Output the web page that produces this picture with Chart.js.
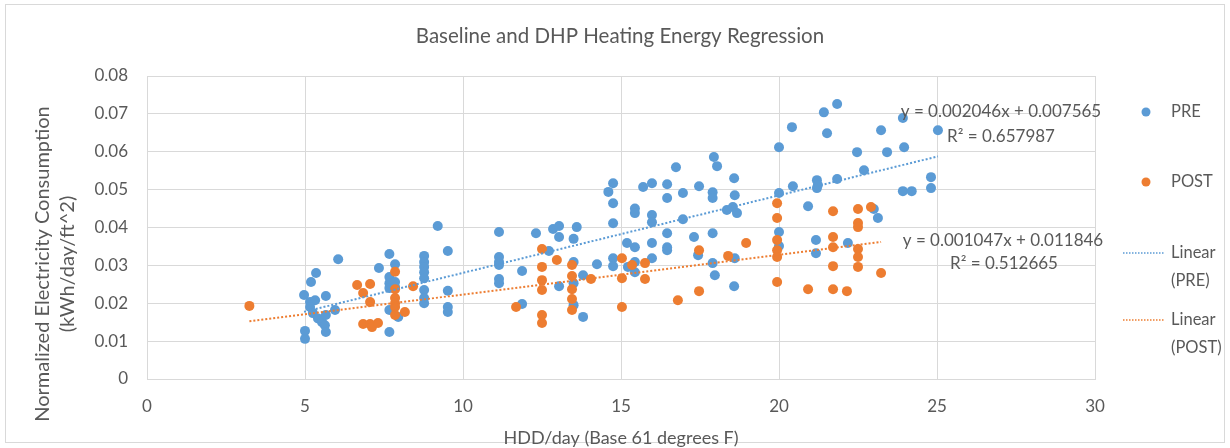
<!DOCTYPE html>
<html>
<head>
<meta charset="utf-8">
<script src="https://cdn.jsdelivr.net/npm/chart.js@4.4.1/dist/chart.umd.min.js"></script>
<style>
  html,body{margin:0;padding:0;background:#fff;}
  #wrap{width:1230px;height:448px;}
</style>
</head>
<body>
<div id="wrap"><canvas id="c" width="1230" height="448"></canvas></div>
<script>
const TITLE = 'Baseline and DHP Heating Energy Regression';
const X_TITLE = 'HDD/day (Base 61 degrees F)';
const Y_TITLE = ['Normalized Electricity Consumption', '(kWh/day/ft^2)'];
const X_TICK_LABELS = ['0', '5', '10', '15', '20', '25', '30'];
const Y_TICK_LABELS = ['0', '0.01', '0.02', '0.03', '0.04', '0.05', '0.06', '0.07', '0.08'];
const SERIES_NAMES = ['PRE', 'POST'];

const PRE_X = [5.0, 5.0, 4.97, 5.19, 5.35, 5.16, 5.32, 5.16, 5.25, 5.41, 5.54, 5.63, 5.66, 5.66, 5.66, 5.95, 6.05,
  7.34, 7.67, 7.85, 7.67, 7.67, 7.67, 7.85, 7.85, 7.67, 7.95, 7.67,
  8.77, 8.77, 8.77, 8.77, 8.77, 8.77, 8.77, 8.77, 9.2, 9.52, 9.52, 9.52, 9.52,
  11.14, 11.14, 11.14, 11.14, 11.14, 11.14, 11.87, 12.31, 12.72, 12.85, 13.04, 13.04, 13.6, 13.5, 13.5, 13.5, 13.8, 13.04,
  11.87, 13.5, 13.8, 14.24, 14.75, 14.75, 14.6, 14.75, 14.75, 14.75, 15.19, 15.44, 15.44, 15.44, 15.44, 15.44,
  15.98, 15.98, 15.98, 15.98, 16.46, 16.46, 16.46, 16.46, 15.22, 15.7, 15.98, 16.46, 16.74, 16.96, 16.96, 17.31,
  17.47, 17.44, 17.9, 17.9, 17.9, 17.9, 17.97, 17.94, 18.04, 18.58, 18.6, 18.35, 18.54, 18.67, 18.6, 18.58,
  20.0, 20.0, 20.0, 20.0, 20.41, 20.44, 20.92, 21.2, 21.2, 21.23, 21.17, 21.17, 21.42, 21.84, 21.52, 21.84,
  22.18, 22.47, 22.69, 23.0, 23.13, 23.23, 23.42, 23.92, 23.96, 23.92, 24.2, 24.81, 24.81, 25.03];
const PRE_Y = [0.0106, 0.0127, 0.0222, 0.0256, 0.028, 0.0203, 0.0208, 0.019, 0.0174, 0.016, 0.015, 0.0142, 0.0124, 0.0169, 0.0219, 0.0182, 0.0316,
  0.0293, 0.033, 0.0303, 0.0269, 0.0253, 0.024, 0.0256, 0.0243, 0.0182, 0.0164, 0.0124,
  0.0325, 0.0309, 0.0296, 0.0282, 0.0266, 0.0235, 0.0214, 0.020, 0.0404, 0.0338, 0.0233, 0.019, 0.0177,
  0.0388, 0.0322, 0.0309, 0.0301, 0.0264, 0.0253, 0.0285, 0.0385, 0.0338, 0.0396, 0.0404, 0.0375, 0.0401, 0.037, 0.0309, 0.0253, 0.0274, 0.0245,
  0.0198, 0.0195, 0.0164, 0.0303, 0.0411, 0.0464, 0.0494, 0.0517, 0.0319, 0.0298, 0.0359, 0.045, 0.0438, 0.0348, 0.0309, 0.0282,
  0.0433, 0.0414, 0.0359, 0.0319, 0.0478, 0.0385, 0.0348, 0.034, 0.0296, 0.0507, 0.0517, 0.0514, 0.0559, 0.0491, 0.0422, 0.0375,
  0.0509, 0.0327, 0.0493, 0.0478, 0.0385, 0.0306, 0.0274, 0.0586, 0.0562, 0.053, 0.0485, 0.0446, 0.0454, 0.0438, 0.0319, 0.0245,
  0.0612, 0.0491, 0.0388, 0.0351, 0.0665, 0.0509, 0.0456, 0.0525, 0.0504, 0.0512, 0.0367, 0.0332, 0.0704, 0.0726, 0.0649, 0.0528,
  0.0359, 0.0599, 0.0551, 0.0449, 0.0425, 0.0657, 0.0599, 0.0689, 0.0612, 0.0496, 0.0496, 0.0533, 0.0504, 0.0657];

const POST_X = [3.24, 6.65, 7.06, 6.84, 7.06, 6.84, 7.06, 7.12, 7.31, 7.85, 7.85, 7.85, 7.85, 7.85, 7.85, 8.16, 8.42,
  12.5, 12.97, 12.5, 12.5, 12.5, 11.68, 12.5, 12.5, 13.45, 13.45, 13.45, 13.45, 13.45, 14.05,
  15.03, 15.03, 15.03, 15.35, 15.76, 15.76, 16.8, 17.47, 17.47, 18.39, 18.96,
  19.94, 19.94, 19.94, 19.94, 19.94, 19.94, 20.92, 21.71, 21.71, 21.71, 21.71, 21.71, 22.15,
  22.5, 22.5, 22.5, 22.5, 22.5, 22.5, 22.91, 23.23];
const POST_Y = [0.0193, 0.0248, 0.0251, 0.0227, 0.0203, 0.0145, 0.0145, 0.0137, 0.0148, 0.0283, 0.0237, 0.0214, 0.020, 0.019, 0.0169, 0.0177, 0.0245,
  0.0343, 0.0314, 0.0296, 0.0261, 0.0235, 0.019, 0.0169, 0.0148, 0.0301, 0.0272, 0.0237, 0.0211, 0.0182, 0.0264,
  0.0319, 0.0266, 0.019, 0.0301, 0.0306, 0.0264, 0.0208, 0.034, 0.0232, 0.0325, 0.0359,
  0.0464, 0.0425, 0.0367, 0.034, 0.0322, 0.0256, 0.0237, 0.0443, 0.0375, 0.0348, 0.0298, 0.0237, 0.0232,
  0.0449, 0.0412, 0.0401, 0.0343, 0.0322, 0.0296, 0.0454, 0.028];

const PRE_SLOPE = 0.002046, PRE_INTERCEPT = 0.007565, PRE_R2 = '0.657987';
const POST_SLOPE = 0.001047, POST_INTERCEPT = 0.011846, POST_R2 = '0.512665';

const BLUE = '#5b9bd5', ORANGE = '#ed7d31', TEXT = '#595959', GRID = '#d9d9d9';
const FONT = 'Lato, "Open Sans", sans-serif';

function pts(xs, ys) { return xs.map((x, i) => ({x: x, y: ys[i]})); }
function trend(xs, m, b) {
  const lo = Math.min(...xs), hi = Math.max(...xs);
  return [{x: lo, y: m * lo + b}, {x: hi, y: m * hi + b}];
}
function eqText(m, b) { return 'y = ' + m.toFixed(6) + 'x + ' + b.toFixed(6); }

const decor = {
  id: 'decor',
  beforeDraw(chart) {
    const ctx = chart.ctx;
    ctx.save();
    ctx.fillStyle = '#fff';
    ctx.fillRect(0, 0, chart.width, chart.height);
    ctx.strokeStyle = GRID;
    ctx.lineWidth = 1;
    ctx.strokeRect(5.5, 4.5, 1219, 438);
    ctx.restore();
  },
  afterDraw(chart) {
    const ctx = chart.ctx;
    ctx.save();
    ctx.fillStyle = TEXT;
    ctx.textBaseline = 'middle';
    // title
    ctx.font = '20.5px ' + FONT;
    ctx.textAlign = 'center';
    ctx.fillText(TITLE, 620, 36);
    // y axis title
    ctx.font = '20px ' + FONT;
    ctx.save();
    ctx.translate(43, 264);
    ctx.rotate(-Math.PI / 2);
    ctx.fillText(Y_TITLE[0], 0, 0);
    ctx.fillText(Y_TITLE[1], 0, 25);
    ctx.restore();
    // equations
    ctx.font = '17px ' + FONT;
    ctx.fillText(eqText(PRE_SLOPE, PRE_INTERCEPT), 1001, 112);
    ctx.fillText('R² = ' + PRE_R2, 1001, 137);
    ctx.fillText(eqText(POST_SLOPE, POST_INTERCEPT), 1003, 241);
    ctx.fillText('R² = ' + POST_R2, 1004, 264);
    // legend
    ctx.font = '16.5px ' + FONT;
    ctx.textAlign = 'left';
    const items = [
      {type: 'pt', color: BLUE, y: 112, lines: [SERIES_NAMES[0]]},
      {type: 'pt', color: ORANGE, y: 182, lines: [SERIES_NAMES[1]]},
      {type: 'ln', color: BLUE, y: 253, lines: ['Linear', '(' + SERIES_NAMES[0] + ')']},
      {type: 'ln', color: ORANGE, y: 320, lines: ['Linear', '(' + SERIES_NAMES[1] + ')']}
    ];
    items.forEach(it => {
      if (it.type === 'pt') {
        ctx.fillStyle = it.color;
        ctx.beginPath();
        ctx.arc(1146, it.y, 4.5, 0, Math.PI * 2);
        ctx.fill();
      } else {
        ctx.strokeStyle = it.color;
        ctx.lineWidth = 1.5;
        ctx.setLineDash([1.5, 1.5]);
        ctx.beginPath();
        ctx.moveTo(1123, it.y);
        ctx.lineTo(1164, it.y);
        ctx.stroke();
        ctx.setLineDash([]);
      }
      ctx.fillStyle = TEXT;
      it.lines.forEach((t, i) => ctx.fillText(t, 1171, it.y + i * 28));
    });
    ctx.restore();
  }
};

new Chart(document.getElementById('c'), {
  type: 'scatter',
  data: {
    datasets: [
      {label: 'Linear (PRE)', type: 'line', data: trend(PRE_X, PRE_SLOPE, PRE_INTERCEPT), borderColor: BLUE,
        borderWidth: 2, borderDash: [2, 2], pointRadius: 0, fill: false, order: 0},
      {label: 'Linear (POST)', type: 'line', data: trend(POST_X, POST_SLOPE, POST_INTERCEPT), borderColor: ORANGE,
        borderWidth: 2, borderDash: [2, 2], pointRadius: 0, fill: false, order: 0},
      {label: SERIES_NAMES[0], data: pts(PRE_X, PRE_Y), backgroundColor: BLUE, borderColor: BLUE, borderWidth: 0, pointRadius: 5, order: 2},
      {label: SERIES_NAMES[1], data: pts(POST_X, POST_Y), backgroundColor: ORANGE, borderColor: ORANGE, borderWidth: 0, pointRadius: 5, order: 1}
    ]
  },
  options: {
    responsive: false,
    animation: false,
    layout: {padding: {left: 0, right: 135, top: 76, bottom: 0}},
    plugins: {legend: {display: false}, title: {display: false}, tooltip: {enabled: false}},
    scales: {
      x: {
        type: 'linear', min: 0, max: 30,
        afterBuildTicks(s) { s.ticks = X_TICK_LABELS.map(v => ({value: Number(v)})); },
        ticks: {color: TEXT, font: {family: FONT, size: 17}, padding: 17, callback: (v, i) => X_TICK_LABELS[i]},
        grid: {color: GRID, drawTicks: false},
        border: {color: GRID},
        title: {display: true, text: X_TITLE, color: TEXT, font: {family: FONT, size: 18}, padding: {top: 0, bottom: -1}},
        afterFit(s) { s.height = 69; }
      },
      y: {
        min: 0, max: 0.08,
        afterBuildTicks(s) { s.ticks = Y_TICK_LABELS.map(v => ({value: Number(v)})); },
        ticks: {color: TEXT, font: {family: FONT, size: 17}, padding: 19, callback: (v, i) => Y_TICK_LABELS[i]},
        grid: {color: GRID, drawTicks: false},
        border: {color: GRID},
        afterFit(s) { s.width = 147; }
      }
    }
  },
  plugins: [decor]
});
</script>
</body>
</html>
